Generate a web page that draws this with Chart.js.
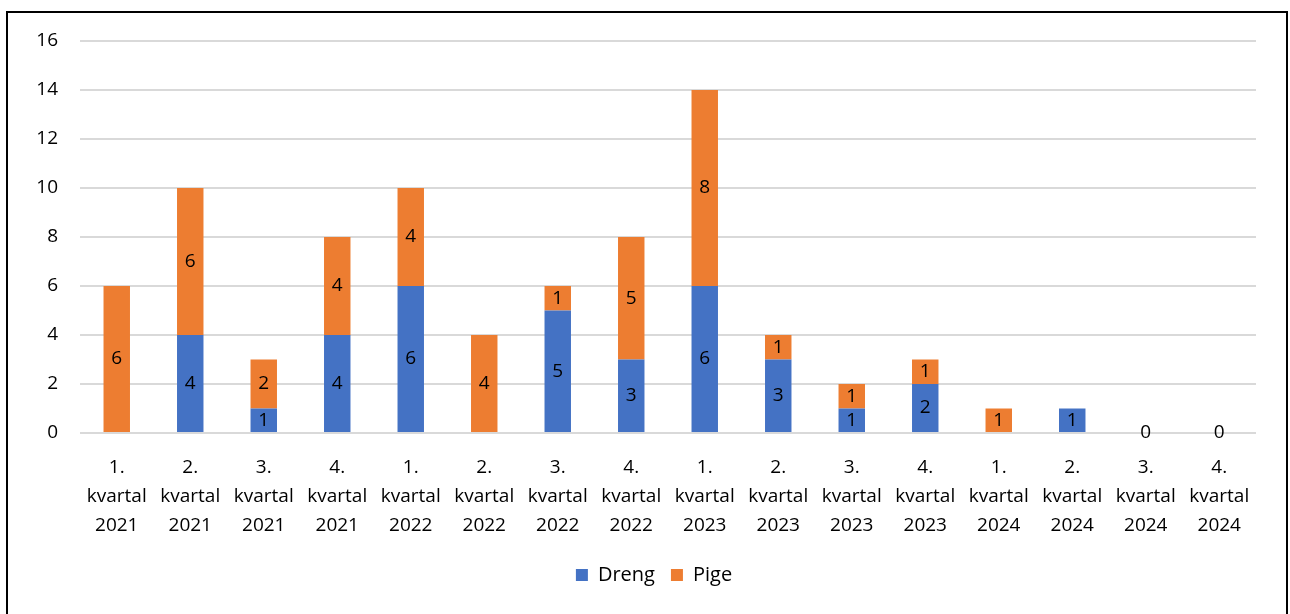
<!DOCTYPE html>
<html>
<head>
<meta charset="utf-8">
<script src="https://cdn.jsdelivr.net/npm/chart.js@4/dist/chart.umd.min.js"></script>
<style>
    html, body { margin: 0; padding: 0; background: #fff; overflow: hidden; }
    #frame {
        position: absolute; left: 6px; top: 11px; width: 1282px; height: 640px;
        border: 2px solid #000; box-sizing: border-box;
    }
    #wrap { position: absolute; left: 0; top: 0; width: 1290px; height: 614px; }
</style>
</head>
<body>
<div id="frame"></div>
<div id="wrap"><canvas id="kvartalChart"></canvas></div>
<script>
// Kvartaler
const categories = [
    ['1.', 'kvartal', '2021'], ['2.', 'kvartal', '2021'], ['3.', 'kvartal', '2021'], ['4.', 'kvartal', '2021'],
    ['1.', 'kvartal', '2022'], ['2.', 'kvartal', '2022'], ['3.', 'kvartal', '2022'], ['4.', 'kvartal', '2022'],
    ['1.', 'kvartal', '2023'], ['2.', 'kvartal', '2023'], ['3.', 'kvartal', '2023'], ['4.', 'kvartal', '2023'],
    ['1.', 'kvartal', '2024'], ['2.', 'kvartal', '2024'], ['3.', 'kvartal', '2024'], ['4.', 'kvartal', '2024']
];
const drengValues = [0, 4, 1, 4, 6, 0, 5, 3, 6, 3, 1, 2, 0, 1, 0, 0];
const pigeValues  = [6, 6, 2, 4, 4, 4, 1, 5, 8, 1, 1, 1, 1, 0, 0, 0];
const yTicks = [0, 2, 4, 6, 8, 10, 12, 14, 16];

const FONT = 'Open Sans, Noto Sans, sans-serif';

// Tal midt i hver søjle
const barLabels = {
    id: 'barLabels',
    afterLayout(chart) {
        // forklaringen står lidt til højre for midten
        chart.legend.left += 26;
        chart.legend.right += 26;
    },
    afterDatasetsDraw(chart) {
        const ctx = chart.ctx;
        ctx.save();
        ctx.font = '19px ' + FONT;
        ctx.fillStyle = '#000';
        ctx.textAlign = 'center';
        ctx.textBaseline = 'middle';
        chart.data.datasets.forEach((ds, di) => {
            const meta = chart.getDatasetMeta(di);
            meta.data.forEach((bar, i) => {
                const v = ds.data[i];
                const total = drengValues[i] + pigeValues[i];
                if (v > 0) {
                    ctx.fillText(String(v), bar.x, (bar.y + bar.base) / 2);
                } else if (total === 0 && di === 1) {
                    ctx.fillText('0', bar.x, bar.base);
                }
            });
        });
        ctx.restore();
    }
};

document.addEventListener('DOMContentLoaded', function() {
    const ctx = document.getElementById('kvartalChart');
    new Chart(ctx, {
        type: 'bar',
        data: {
            labels: categories,
            datasets: [{
                label: 'Dreng',
                data: drengValues,
                backgroundColor: '#4472C4',
                barPercentage: 0.72,
                categoryPercentage: 0.5
            }, {
                label: 'Pige',
                data: pigeValues,
                backgroundColor: '#ED7D31',
                barPercentage: 0.72,
                categoryPercentage: 0.5
            }]
        },
        options: {
            responsive: true,
            maintainAspectRatio: false,
            animation: false,
            layout: { padding: { left: 0, right: 34, top: 41, bottom: 19 } },
            scales: {
                x: {
                    stacked: true,
                    grid: { display: false },
                    border: { display: false },
                    ticks: {
                        color: '#000',
                        font: { family: FONT, size: 19, lineHeight: 1.53 },
                        padding: 12,
                        maxRotation: 0,
                        autoSkip: false
                    },
                    afterFit: function(scale) { scale.height = 116; }
                },
                y: {
                    stacked: true,
                    min: 0,
                    max: 16,
                    afterBuildTicks: function(scale) {
                        scale.ticks = yTicks.map(v => ({ value: v }));
                    },
                    grid: { color: '#d9d9d9', lineWidth: 2, drawTicks: false },
                    border: { display: false },
                    ticks: {
                        color: '#000',
                        font: { family: FONT, size: 19 },
                        padding: 22
                    },
                    afterFit: function(scale) { scale.width = 80; }
                }
            },
            plugins: {
                legend: {
                    position: 'bottom',
                    labels: {
                        color: '#000',
                        font: { family: FONT, size: 20 },
                        boxWidth: 12,
                        boxHeight: 12,
                        padding: 16
                    }
                },
                tooltip: { enabled: false }
            }
        },
        plugins: [barLabels]
    });
});
</script>
</body>
</html>
